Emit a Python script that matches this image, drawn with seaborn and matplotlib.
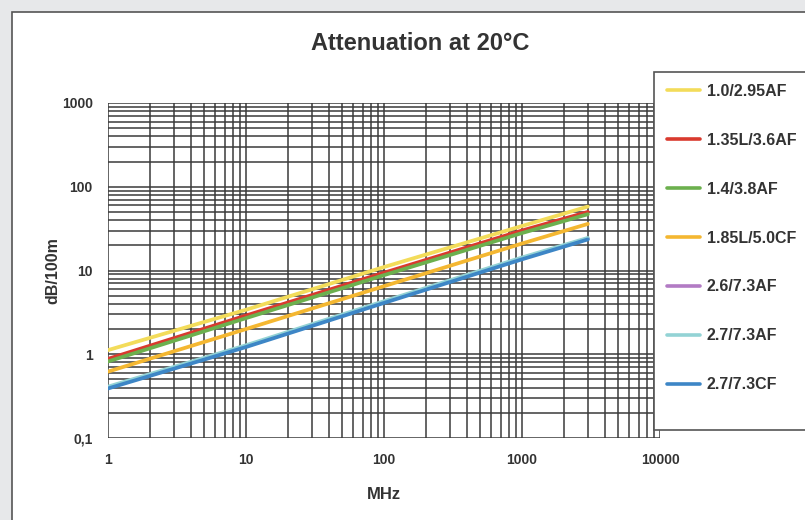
import numpy as np
import pandas as pd
import matplotlib
matplotlib.use("Agg")
import matplotlib.pyplot as plt
import seaborn as sns
from matplotlib.patches import Rectangle
from matplotlib.ticker import FixedLocator, LogLocator, NullFormatter

freq = [1, 10, 100, 1000, 3000]

cables = ["1.0/2.95AF", "1.35L/3.6AF", "1.4/3.8AF", "1.85L/5.0CF",
          "2.6/7.3AF", "2.7/7.3AF", "2.7/7.3CF"]

att_10_295af = [1.12, 3.4, 11.0, 34.0, 58.0]
att_135_36af = [0.88, 2.9, 9.4, 30.0, 50.0]
att_14_38af = [0.82, 2.7, 8.8, 28.0, 47.0]
att_185_50cf = [0.62, 2.0, 6.5, 21.0, 36.0]
att_26_73af = [0.40, 1.25, 4.2, 14.0, 24.0]
att_27_73af = [0.41, 1.28, 4.3, 14.3, 24.5]
att_27_73cf = [0.39, 1.22, 4.1, 13.6, 23.5]

colors = ["#f3dc5a", "#d93a2e", "#6cb04e", "#f4b731",
          "#b27bc4", "#93d3d5", "#3d86c6"]

series = [att_10_295af, att_135_36af, att_14_38af, att_185_50cf,
          att_26_73af, att_27_73af, att_27_73cf]

rows = []
for name, vals in zip(cables, series):
    for f, v in zip(freq, vals):
        rows.append({"MHz": f, "dB/100m": v, "cable": name})
df = pd.DataFrame(rows)

sns.set_style("white")
plt.rcParams['font.family'] = ['Liberation Sans', 'DejaVu Sans']

W, H = 805, 520
fig = plt.figure(figsize=(8.05, 5.20), dpi=100)
fig.patch.set_facecolor("#e7e8ea")
# white panel with border
fig.patches.append(Rectangle((12 / W, -0.01), 1.0, 1 - 12 / H + 0.01,
                             transform=fig.transFigure, facecolor="white",
                             edgecolor="#555555", linewidth=1.2, zorder=-5))
# legend box
fig.patches.append(Rectangle((654 / W, 1 - 430 / H), 0.3, 358 / H,
                             transform=fig.transFigure, facecolor="white",
                             edgecolor="#555555", linewidth=1.2, zorder=4))

ax = fig.add_axes([108 / W, 1 - 438 / H, 552 / W, 335 / H])
ax.set_facecolor("white")

sns.lineplot(data=df, x="MHz", y="dB/100m", hue="cable", hue_order=cables,
             palette=colors, linewidth=2.7, ax=ax, legend=False, zorder=3)

ax.set_xscale("log")
ax.set_yscale("log")
ax.set_xlim(1, 10000)
ax.set_ylim(0.1, 1000)

ax.xaxis.set_major_locator(FixedLocator([1, 10, 100, 1000, 10000]))
ax.yaxis.set_major_locator(FixedLocator([0.1, 1, 10, 100, 1000]))
ax.xaxis.set_minor_locator(LogLocator(base=10, subs=np.arange(2, 10)))
ax.yaxis.set_minor_locator(LogLocator(base=10, subs=np.arange(2, 10)))
ax.xaxis.set_minor_formatter(NullFormatter())
ax.yaxis.set_minor_formatter(NullFormatter())
ax.set_xticklabels(["1", "10", "100", "1000", "10000"])
ax.set_yticklabels(["0,1", "1", "10", "100", "1000"])

ax.grid(True, which="both", color="#3a3a3a", linewidth=1.1)
for s in ax.spines.values():
    s.set_visible(False)
ax.tick_params(axis="both", which="major", length=5, width=1.1, color="#3a3a3a",
               labelsize=10, pad=6)
ax.tick_params(axis="both", which="minor", length=0)
for lab in ax.get_xticklabels() + ax.get_yticklabels():
    lab.set_fontweight("bold")
    lab.set_color("#333333")

ax.set_xlabel("MHz", fontsize=12, fontweight="bold", color="#333333", labelpad=14)
ax.set_ylabel("dB/100m", fontsize=11.5, fontweight="bold", color="#333333", labelpad=1)

fig.text(420 / W, 1 - 44 / H, "Attenuation at 20°C", fontsize=17,
         fontweight="bold", color="#333333", ha="center", va="center")

handles = [plt.Line2D([], [], color=c, linewidth=2.6) for c in colors]
leg = fig.legend(handles, cables, loc="upper left",
                 bbox_to_anchor=(667 / W, 1 - 84 / H),
                 frameon=False, prop={"weight": "bold", "size": 11.5},
                 labelspacing=2.12, handlelength=2.05, handletextpad=0.45,
                 borderpad=0, borderaxespad=0)
leg.set_zorder(5)
for t in leg.get_texts():
    t.set_color("#333333")

fig.savefig("out.png", dpi=100, facecolor=fig.get_facecolor())
